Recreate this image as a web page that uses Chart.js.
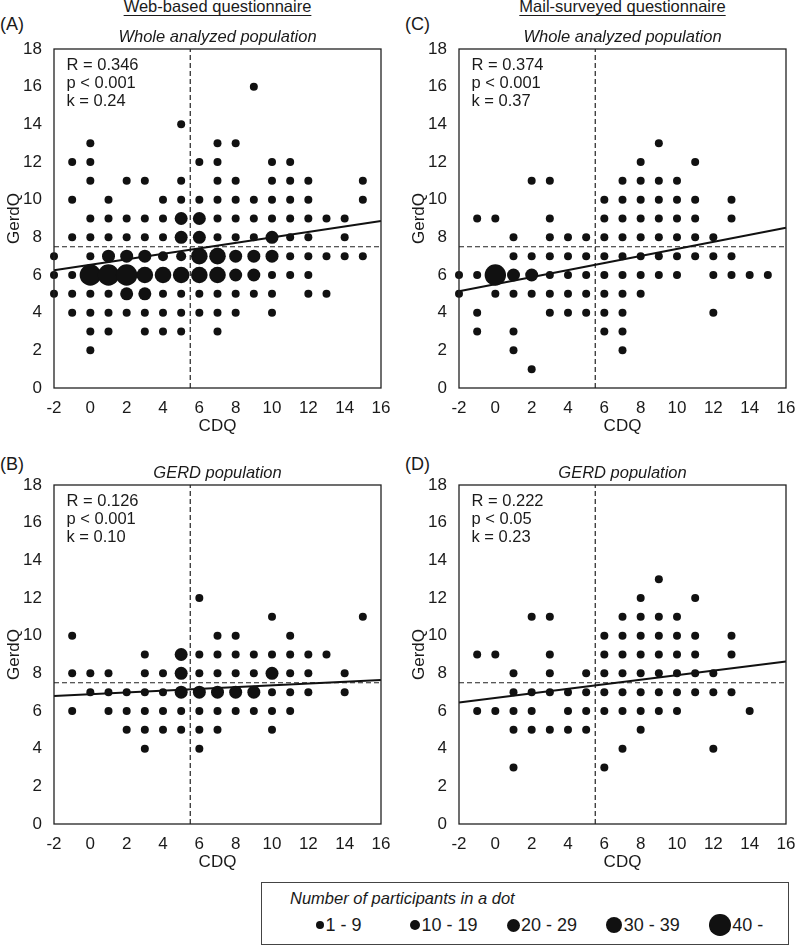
<!DOCTYPE html>
<html>
<head>
<meta charset="utf-8">
<script src="https://cdn.jsdelivr.net/npm/chart.js@4.4.0/dist/chart.umd.min.js"></script>
<style>
  html, body { margin: 0; padding: 0; background: #fff; }
  body { width: 795px; height: 945px; position: relative; overflow: hidden;
         font-family: 'Liberation Sans', Arial, sans-serif; color: #1a1a1a; }
  canvas { position: absolute; }
  .txt { position: absolute; white-space: nowrap; line-height: 1; }
  .head { width: 300px; text-align: center; font-size: 16.5px; top: -1.7px;
          text-decoration: underline; text-underline-offset: 3px; text-decoration-thickness: 1px; }
  .tag { font-size: 18px; }
  #legendBox { position: absolute; left: 261px; top: 882px; width: 528px; height: 63px;
               border: 1px solid #444; box-sizing: border-box; }
  .dot { position: absolute; border-radius: 50%; background: #111; }
</style>
</head>
<body>

<div class="txt head" style="left:67.5px">Web-based questionnaire</div>
<div class="txt head" style="left:472.5px">Mail-surveyed questionnaire</div>
<div class="txt tag" style="left:0;top:14.8px">(A)</div>
<div class="txt tag" style="left:405px;top:14.8px">(C)</div>
<div class="txt tag" style="left:0;top:455px">(B)</div>
<div class="txt tag" style="left:405px;top:455px">(D)</div>

<canvas id="panelA" width="420" height="422" style="left:0;top:19px"></canvas>
<canvas id="panelC" width="420" height="422" style="left:405px;top:19px"></canvas>
<canvas id="panelB" width="420" height="422" style="left:0;top:455px"></canvas>
<canvas id="panelD" width="420" height="422" style="left:405px;top:455px"></canvas>

<div id="legendBox"></div>

<script>
// Ejes y cortes
const cdqTicks = [-2, 0, 2, 4, 6, 8, 10, 12, 14, 16];
const gerdqTicks = [0, 2, 4, 6, 8, 10, 12, 14, 16, 18];
const CDQ_CUT = 5.5;
const GERDQ_CUT = 7.5;

// Clases de tamaño (número de participantes por punto)
const sizeLabels = ['1 - 9', '10 - 19', '20 - 29', '30 - 39', '40 -'];
const RADII = [4, 5, 6.5, 8.3, 10.7];

// (A) web, población total: [GerdQ, valores CDQ con punto]
const webAllRows = [
  [16, [9]],
  [14, [5]],
  [13, [0, 7, 8]],
  [12, [-1, 0, 6, 7, 10, 11]],
  [11, [0, 2, 3, 5, 7, 8, 10, 11, 12, 15]],
  [10, [-1, 1, 4, 5, 6, 7, 8, 9, 10, 11, 12, 15]],
  [9, [0, 1, 2, 3, 4, 5, 6, 7, 8, 9, 10, 11, 12, 13, 14]],
  [8, [-1, 0, 1, 2, 3, 4, 5, 6, 7, 8, 9, 10, 11, 12, 14]],
  [7, [-2, 0, 1, 2, 3, 4, 5, 6, 7, 8, 9, 10, 11, 12, 13, 14, 15]],
  [6, [-2, -1, 0, 1, 2, 3, 4, 5, 6, 7, 8, 9, 10, 11, 12]],
  [5, [-2, -1, 0, 1, 2, 3, 4, 5, 6, 7, 8, 9, 10, 12, 13]],
  [4, [-1, 0, 1, 2, 3, 4, 5, 6, 7, 8, 10]],
  [3, [0, 1, 3, 4, 5, 7]],
  [2, [0]]
];
// puntos mayores que la clase 1: [CDQ, GerdQ, clase]
const webAllLarge = [
  [5, 9, 3], [6, 9, 3], [5, 8, 3], [6, 8, 3], [10, 8, 3],
  [1, 7, 3], [2, 7, 3], [3, 7, 3], [4, 7, 2], [5, 7, 2], [6, 7, 4], [7, 7, 4], [8, 7, 3], [9, 7, 3], [10, 7, 3],
  [0, 6, 5], [1, 6, 5], [2, 6, 5], [3, 6, 4], [4, 6, 4], [5, 6, 4], [6, 6, 4], [7, 6, 4], [8, 6, 3], [9, 6, 3],
  [2, 5, 3], [3, 5, 3]
];
const webAllFit = [6.25, 8.87];   // recta en CDQ = -2 y 16
const webAllStats = ['R = 0.346', 'p < 0.001', 'k = 0.24'];

// (B) web, población ERGE
const webGerdRows = [
  [12, [6]],
  [11, [10, 15]],
  [10, [-1, 7, 8, 11]],
  [9, [3, 5, 6, 7, 8, 9, 10, 11, 12, 13]],
  [8, [-1, 0, 1, 3, 4, 5, 6, 7, 8, 9, 10, 11, 12, 14]],
  [7, [0, 1, 2, 3, 4, 5, 6, 7, 8, 9, 10, 11, 12, 14]],
  [6, [-1, 1, 2, 3, 4, 5, 6, 7, 8, 9, 10, 11]],
  [5, [2, 3, 4, 5, 6, 7, 10]],
  [4, [3, 6]]
];
const webGerdLarge = [
  [5, 9, 3], [5, 8, 3], [10, 8, 3],
  [5, 7, 3], [6, 7, 3], [7, 7, 3], [8, 7, 3], [9, 7, 3]
];
const webGerdFit = [6.8, 7.64];
const webGerdStats = ['R = 0.126', 'p < 0.001', 'k = 0.10'];

// (C) correo, población total
const mailAllRows = [
  [13, [9]],
  [12, [8, 11]],
  [11, [2, 3, 7, 8, 9, 10]],
  [10, [6, 7, 8, 9, 10, 11, 13]],
  [9, [-1, 0, 3, 6, 7, 8, 9, 10, 11, 13]],
  [8, [1, 3, 4, 5, 6, 7, 8, 9, 10, 11, 12]],
  [7, [1, 2, 3, 4, 5, 6, 7, 8, 9, 10, 11, 12, 13]],
  [6, [-2, -1, 0, 1, 2, 3, 4, 5, 6, 7, 8, 9, 10, 12, 13, 14, 15]],
  [5, [-2, 0, 1, 2, 3, 4, 5, 6, 7, 8]],
  [4, [-1, 3, 4, 5, 6, 7, 12]],
  [3, [-1, 1, 6, 7]],
  [2, [1, 7]],
  [1, [2]]
];
const mailAllLarge = [[0, 6, 5], [1, 6, 3], [2, 6, 3]];
const mailAllFit = [5.14, 8.51];
const mailAllStats = ['R = 0.374', 'p < 0.001', 'k = 0.37'];

// (D) correo, población ERGE
const mailGerdRows = [
  [13, [9]],
  [12, [8, 11]],
  [11, [2, 3, 7, 8, 9, 10]],
  [10, [6, 7, 8, 9, 10, 11, 13]],
  [9, [-1, 0, 3, 6, 7, 8, 9, 10, 11, 13]],
  [8, [1, 3, 5, 6, 7, 8, 9, 10, 11, 12]],
  [7, [1, 2, 3, 4, 5, 6, 7, 8, 9, 10, 11, 12, 13]],
  [6, [-1, 0, 1, 2, 4, 5, 6, 7, 8, 9, 10, 14]],
  [5, [1, 2, 3, 4, 5, 8]],
  [4, [7, 12]],
  [3, [1, 6]]
];
const mailGerdLarge = [];
const mailGerdFit = [6.45, 8.63];
const mailGerdStats = ['R = 0.222', 'p < 0.05', 'k = 0.23'];

const FONT = "'Liberation Sans', Arial, sans-serif";
Chart.defaults.font.family = FONT;
Chart.defaults.color = '#1a1a1a';

// marco, texto de estadísticos y subtítulo de cada panel
const panelDecor = {
  id: 'panelDecor',
  afterDatasetsDraw(chart, args, opts) {
    const { ctx, chartArea: a } = chart;
    ctx.save();
    ctx.strokeStyle = '#222';
    ctx.lineWidth = 1.3;
    ctx.strokeRect(a.left, a.top, a.right - a.left, a.bottom - a.top);
    ctx.fillStyle = '#1a1a1a';
    ctx.font = '16.5px ' + FONT;
    ctx.textAlign = 'left';
    ctx.textBaseline = 'middle';
    opts.stats.forEach((t, i) => ctx.fillText(t, a.left + 12.5, a.top + 16 + i * 18.3));
    ctx.font = 'italic 16.5px ' + FONT;
    ctx.textAlign = 'center';
    ctx.fillText(opts.subtitle, (a.left + a.right) / 2, a.top - 11.5);
    ctx.restore();
  }
};

function makePanel(id, rows, large, fit, stats, subtitle) {
  const sizeOf = {};
  large.forEach(([x, y, c]) => { sizeOf[x + ',' + y] = c; });
  const dots = [];
  rows.forEach(([g, cdqs]) => cdqs.forEach(x => dots.push({ x: x, y: g, c: sizeOf[x + ',' + g] || 1 })));

  const dashed = { type: 'line', borderColor: '#222', borderWidth: 1.2, borderDash: [5, 3], pointRadius: 0, clip: false };

  new Chart(document.getElementById(id), {
    type: 'scatter',
    data: {
      datasets: [
        { data: dots, backgroundColor: '#111', borderWidth: 0, clip: false,
          pointRadius: c => (c.raw ? RADII[c.raw.c - 1] : 4) },
        { type: 'line', data: [{ x: -2, y: fit[0] }, { x: 16, y: fit[1] }],
          borderColor: '#111', borderWidth: 2, pointRadius: 0, clip: false },
        Object.assign({ data: [{ x: CDQ_CUT, y: 0 }, { x: CDQ_CUT, y: 18 }] }, dashed),
        Object.assign({ data: [{ x: -2, y: GERDQ_CUT }, { x: 16, y: GERDQ_CUT }] }, dashed)
      ]
    },
    options: {
      responsive: false,
      animation: false,
      events: [],
      layout: { padding: { left: 0, top: 30, right: 39, bottom: 0 } },
      plugins: {
        legend: { display: false },
        tooltip: { enabled: false },
        panelDecor: { stats: stats, subtitle: subtitle }
      },
      scales: {
        x: {
          type: 'linear', min: -2, max: 16,
          afterBuildTicks: s => { s.ticks = cdqTicks.map(v => ({ value: v })); },
          afterFit: s => { s.height = 53; },
          grid: { display: false, drawTicks: false },
          border: { display: false },
          ticks: { padding: 10, autoSkip: false, maxRotation: 0, font: { size: 17 }, callback: v => String(v) },
          title: { display: true, text: 'CDQ', font: { size: 17 }, padding: { top: 0, bottom: 4 } }
        },
        y: {
          type: 'linear', min: 0, max: 18,
          afterBuildTicks: s => { s.ticks = gerdqTicks.map(v => ({ value: v })); },
          afterFit: s => { s.width = 54; },
          grid: { display: false, drawTicks: false },
          border: { display: false },
          ticks: { padding: 12, autoSkip: false, font: { size: 17 }, callback: v => String(v) },
          title: { display: true, text: 'GerdQ', font: { size: 17 }, padding: { top: 4, bottom: 0 } }
        }
      }
    },
    plugins: [panelDecor]
  });
}

makePanel('panelA', webAllRows, webAllLarge, webAllFit, webAllStats, 'Whole analyzed population');
makePanel('panelB', webGerdRows, webGerdLarge, webGerdFit, webGerdStats, 'GERD population');
makePanel('panelC', mailAllRows, mailAllLarge, mailAllFit, mailAllStats, 'Whole analyzed population');
makePanel('panelD', mailGerdRows, mailGerdLarge, mailGerdFit, mailGerdStats, 'GERD population');

// Leyenda de tamaños
const legendDotX = [320, 415, 513, 614, 720];
const body = document.body;
const lt = document.createElement('div');
lt.className = 'txt';
lt.style.cssText = 'left:290px;top:890px;font-size:16.5px;font-style:italic';
lt.textContent = 'Number of participants in a dot';
body.appendChild(lt);
sizeLabels.forEach((label, i) => {
  const r = RADII[i];
  const d = document.createElement('div');
  d.className = 'dot';
  d.style.cssText = `left:${legendDotX[i] - r}px;top:${925 - r}px;width:${2 * r}px;height:${2 * r}px`;
  body.appendChild(d);
  const t = document.createElement('div');
  t.className = 'txt';
  t.style.cssText = `left:${legendDotX[i] + r + 1.5}px;top:915.8px;font-size:18px`;
  t.textContent = label;
  body.appendChild(t);
});
</script>
</body>
</html>
